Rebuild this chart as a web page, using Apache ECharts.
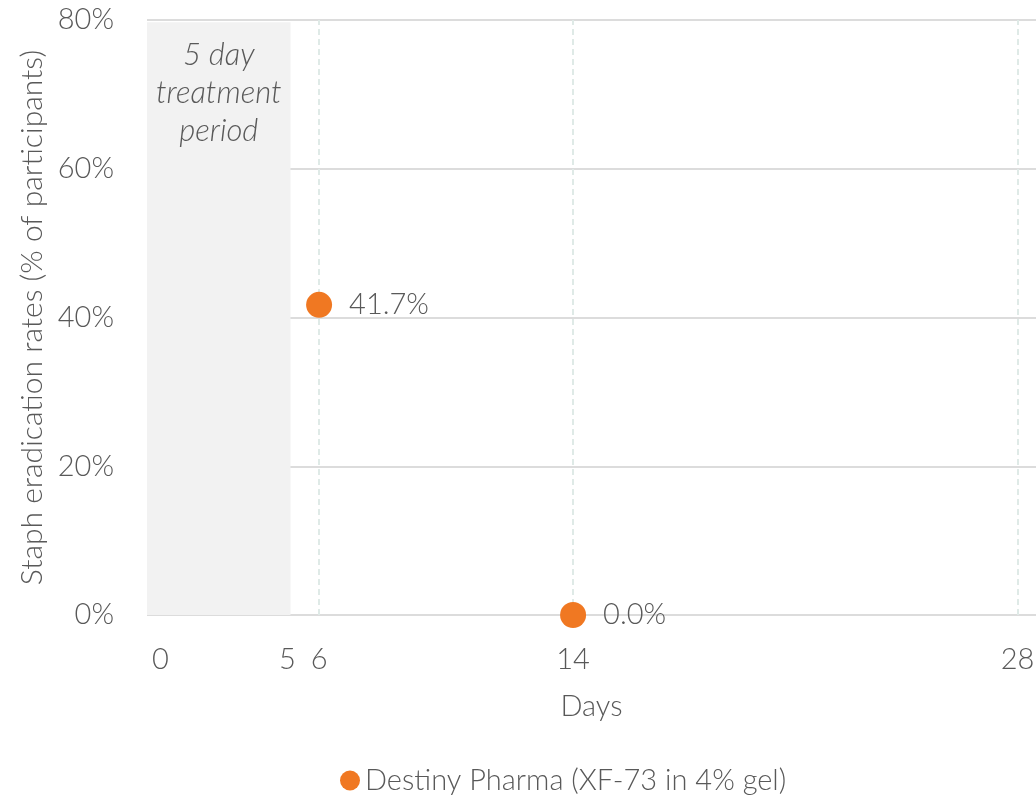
<!DOCTYPE html>
<html>
<head>
<meta charset="utf-8">
<script src="https://cdn.jsdelivr.net/npm/echarts@6/dist/echarts.min.js"></script>
<style>html,body{margin:0;padding:0;background:#fff}#c{width:1036px;height:798px}</style>
</head>
<body>
<div id="c"></div>
<script>
const seriesName = 'Destiny Pharma (XF-73 in 4% gel)';
const days = [6, 14];
const rates = [41.7, 0.0];
const xTickValues = [1, 5, 6, 14, 28];
const xTickLabels = ['0', '5', '6', '14', '28'];
const refLines = [6, 14, 28];
const treatmentEnd = 5.1;
const treatmentLabel = '5 day\ntreatment\nperiod';

const FONT = 'Lato';
const TXT = '#595959';
const FS = 29;
const chart = echarts.init(document.getElementById('c'));
chart.setOption({
  animation: false,
  textStyle: { fontFamily: FONT, fontWeight: 300 },
  grid: { left: 147, right: 0, top: 20, bottom: 183, outerBoundsMode: 'none', containLabel: false },
  legend: {
    bottom: -2, left: 335,
    icon: 'circle', itemWidth: 20, itemHeight: 20, itemGap: 8,
    textStyle: { fontSize: FS, color: TXT, fontFamily: FONT, fontWeight: 300 },
    data: [seriesName]
  },
  xAxis: {
    type: 'value', min: 0.58, max: 28.58,
    name: 'Days', nameLocation: 'middle', nameGap: 77,
    nameTextStyle: { fontSize: FS, color: TXT, fontFamily: FONT, fontWeight: 300 },
    axisLine: { show: false },
    axisTick: { show: false },
    splitLine: { show: false },
    axisLabel: {
      customValues: xTickValues,
      formatter: v => xTickLabels[xTickValues.indexOf(v)],
      fontSize: FS, color: TXT, margin: 30, fontFamily: FONT, fontWeight: 300
    }
  },
  yAxis: {
    type: 'value', min: 0, max: 80, interval: 20,
    name: 'Staph eradication rates (% of participants)', nameLocation: 'middle', nameGap: 98,
    nameTextStyle: { fontSize: 30, color: TXT, fontFamily: FONT, fontWeight: 300 },
    axisLine: { show: false }, axisTick: { show: false },
    splitLine: { lineStyle: { color: '#dcdcdc', width: 2 } },
    axisLabel: { formatter: '{value}%', fontSize: FS, color: TXT, margin: 33, fontFamily: FONT, fontWeight: 300 }
  },
  series: [{
    name: seriesName,
    type: 'scatter',
    symbolSize: 26,
    itemStyle: { color: '#F07822', opacity: 1 },
    data: days.map((d, i) => [d, rates[i]]),
    z: 5,
    label: {
      show: true, position: 'right', distance: 17,
      formatter: p => p.value[1].toFixed(1) + '%',
      fontSize: FS, color: TXT, fontFamily: FONT, fontWeight: 300
    },
    markArea: {
      silent: true,
      itemStyle: { color: '#f2f2f2' },
      label: {
        show: true, position: 'insideTop', distance: 14,
        fontSize: 31, fontStyle: 'italic', color: TXT, lineHeight: 38,
        fontFamily: FONT, fontWeight: 300
      },
      data: [[{ xAxis: 0.58, yAxis: 79.7, name: treatmentLabel }, { xAxis: treatmentEnd, yAxis: 0 }]]
    },
    markLine: {
      silent: true, symbol: 'none',
      label: { show: false },
      lineStyle: { type: [6, 4], color: '#dfeae7', width: 2 },
      data: refLines.map(v => ({ xAxis: v }))
    }
  }]
});
</script>
</body>
</html>
